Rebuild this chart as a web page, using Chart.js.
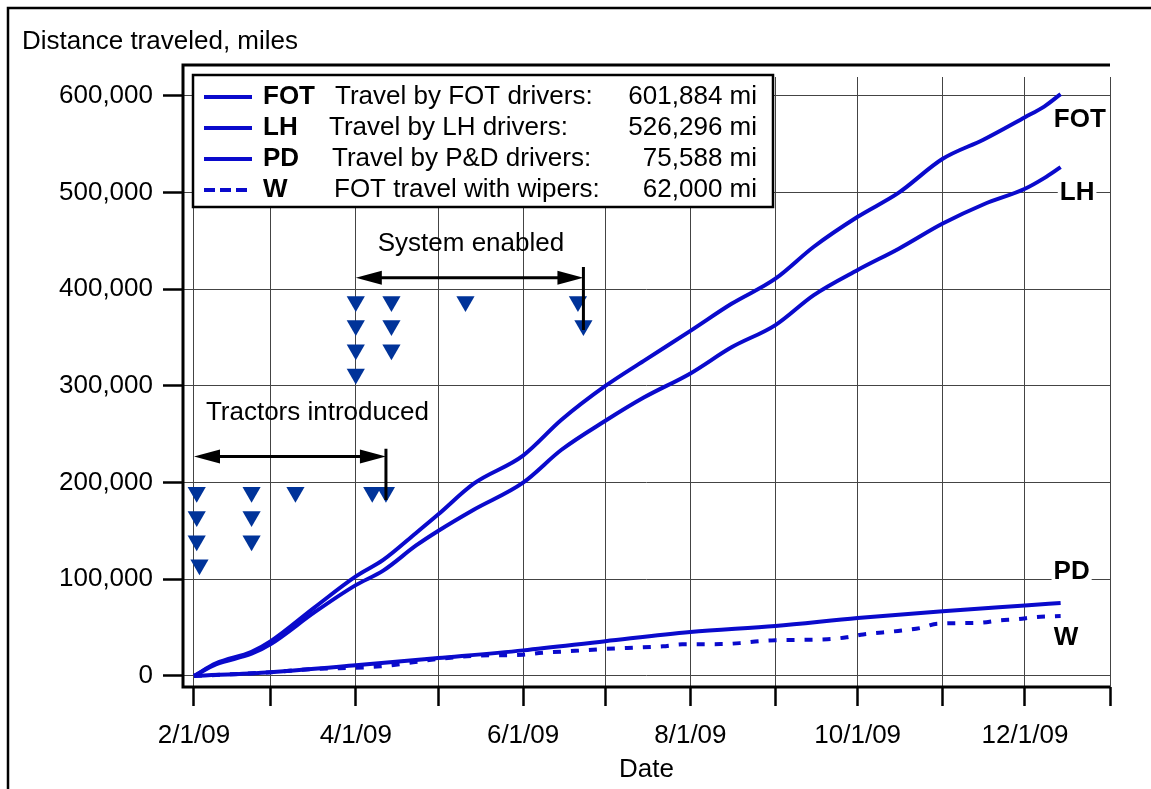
<!DOCTYPE html>
<html>
<head>
<meta charset="utf-8">
<title>Distance traveled</title>
<script src="https://cdn.jsdelivr.net/npm/chart.js@4.4.0/dist/chart.umd.min.js"></script>
<style>
body { margin: 0; background: #fff; }
</style>
</head>
<body>
<canvas id="myChart" width="1151" height="789"></canvas>
<script>
// cumulative miles
var dates    = ['2009-02-01','2009-02-09','2009-02-22','2009-03-01','2009-03-17','2009-04-01','2009-04-11','2009-04-23','2009-05-01','2009-05-14','2009-06-01','2009-06-15','2009-07-01','2009-07-15','2009-08-01','2009-08-16','2009-09-01','2009-09-15','2009-10-01','2009-10-16','2009-11-01','2009-11-16','2009-12-01','2009-12-08','2009-12-14'];
var fotMiles = [0, 13000, 25000, 36000, 71000, 103000, 120000, 148000, 167000, 199000, 228000, 265000, 300000, 326000, 357000, 385000, 411000, 444000, 475000, 500000, 535000, 555000, 578000, 589000, 601884];
var lhMiles  = [0, 12000, 23000, 33000, 66000, 94000, 109000, 135000, 150000, 172000, 200000, 234000, 264000, 288000, 313000, 340000, 363000, 394000, 420000, 442000, 468000, 488000, 504000, 515000, 526296];

var pdDates = ['2009-02-01','2009-03-01','2009-04-01','2009-05-01','2009-06-01','2009-07-01','2009-08-01','2009-09-01','2009-10-01','2009-11-01','2009-12-01','2009-12-14'];
var pdMiles = [0, 4000, 11000, 18500, 26500, 36000, 45500, 51700, 60000, 67000, 73000, 75588];

var wDates = ['2009-02-01','2009-03-01','2009-03-15','2009-04-10','2009-05-01','2009-05-15','2009-06-01','2009-06-08','2009-06-20','2009-07-01','2009-07-09','2009-07-22','2009-07-29','2009-08-12','2009-08-19','2009-08-26','2009-09-01','2009-09-20','2009-09-27','2009-10-03','2009-10-10','2009-10-17','2009-10-24','2009-10-30','2009-11-14','2009-11-22','2009-11-28','2009-12-05','2009-12-14'];
var wMiles = [0, 4000, 7000, 10000, 17500, 21000, 22000, 24000, 26000, 28000, 29000, 30700, 32800, 33000, 34000, 36000, 37000, 38000, 40000, 43000, 45000, 47000, 49700, 54000, 55000, 57600, 58600, 61000, 62000];

// event markers
var tractorDates = ['2009-02-02','2009-02-02','2009-02-02','2009-02-03','2009-02-22','2009-02-22','2009-02-22','2009-03-10','2009-04-07','2009-04-12'];
var tractorMiles = [190000, 165000, 140000, 115000, 190000, 165000, 140000, 190000, 190000, 190000];
var systemDates = ['2009-04-01','2009-04-01','2009-04-01','2009-04-01','2009-04-14','2009-04-14','2009-04-14','2009-05-11','2009-06-21','2009-06-23'];
var systemMiles = [387500, 362500, 337500, 312500, 387500, 362500, 337500, 387500, 387500, 362500];

// span arrows
var spanLabels = ['Tractors introduced', 'System enabled'];
var spanFrom = ['2009-02-01', '2009-04-01'];
var spanTo = ['2009-04-12', '2009-06-23'];
var spanLevel = [227000, 412000];
var stemTop = [235000, 423000];
var stemBottom = [182000, 358000];
var spanLabelDate = ['2009-03-18', '2009-05-13'];
var spanLabelMiles = [272000, 447000];

// series tags at the right end
var endTags = ['FOT', 'LH', 'PD', 'W'];
var endTagDates = ['2009-12-21', '2009-12-20', '2009-12-18', '2009-12-16'];
var endTagMiles = [575000, 500000, 108000, 39000];

var legendKeys = ['FOT', 'LH', 'PD', 'W'];
var legendText = ['Travel by FOT drivers:', 'Travel by LH drivers:', 'Travel by P&D drivers:', 'FOT travel with wipers:'];
var legendTotals = ['601,884 mi', '526,296 mi', '75,588 mi', '62,000 mi'];

var monthStarts = ['2009-02-01','2009-03-01','2009-04-01','2009-05-01','2009-06-01','2009-07-01','2009-08-01','2009-09-01','2009-10-01','2009-11-01','2009-12-01','2010-01-01'];
var monthLabels = ['2/1/09','','4/1/09','','6/1/09','','8/1/09','','10/1/09','','12/1/09',''];
var yTicks = [0, 100000, 200000, 300000, 400000, 500000, 600000];

var FONT = '"Liberation Sans", Arial, sans-serif';
var BLUE = '#0a0acc';
var NAVY = '#003399';

function day( s ){
  var p = s.split('-');
  return ( Date.UTC( +p[0], +p[1] - 1, +p[2] ) - Date.UTC( 2009, 1, 1 ) ) / 86400000;
}
function pts( ds, vs ){
  var out = [];
  for( var i = 0; i < ds.length; i ++ ){
    out.push( { x: day( ds[i] ), y: vs[i] } );
  }
  return out;
}

function arrowHead( ctx, x, y, dir ){
  ctx.beginPath();
  ctx.moveTo( x, y );
  ctx.lineTo( x - dir * 26, y - 7 );
  ctx.lineTo( x - dir * 26, y + 7 );
  ctx.closePath();
  ctx.fill();
}

var decorations = {
  id: 'decorations',
  afterDraw: function( chart ){
    var ctx = chart.ctx;
    var xs = chart.scales.x, ys = chart.scales.y;
    var a = chart.chartArea;
    ctx.save();

    // outer frame
    ctx.strokeStyle = '#000';
    ctx.lineWidth = 2.5;
    ctx.strokeRect( 8, 8, 1170, 800 );

    // plot frame: top, left axis, bottom axis
    ctx.lineWidth = 3;
    ctx.beginPath();
    ctx.moveTo( a.left, a.top - 12 ); ctx.lineTo( a.right, a.top - 12 );
    ctx.moveTo( a.left, a.top - 13.5 ); ctx.lineTo( a.left, a.bottom );
    ctx.moveTo( a.left - 1.5, a.bottom ); ctx.lineTo( a.right, a.bottom );
    ctx.stroke();

    // axis title
    ctx.fillStyle = '#000';
    ctx.font = '26px ' + FONT;
    ctx.textBaseline = 'middle';
    ctx.textAlign = 'left';
    ctx.fillText( 'Distance traveled, miles', 22, 42 );

    // span arrows
    ctx.lineWidth = 3;
    for( var i = 0; i < spanLabels.length; i ++ ){
      var x1 = xs.getPixelForValue( day( spanFrom[i] ) );
      var x2 = xs.getPixelForValue( day( spanTo[i] ) );
      var yl = ys.getPixelForValue( spanLevel[i] );
      ctx.beginPath();
      ctx.moveTo( x1 + 20, yl ); ctx.lineTo( x2 - 20, yl );
      ctx.moveTo( x2, ys.getPixelForValue( stemTop[i] ) );
      ctx.lineTo( x2, ys.getPixelForValue( stemBottom[i] ) );
      ctx.stroke();
      arrowHead( ctx, x1, yl, -1 );
      arrowHead( ctx, x2, yl, 1 );
      ctx.textAlign = 'center';
      ctx.fillText( spanLabels[i], xs.getPixelForValue( day( spanLabelDate[i] ) ), ys.getPixelForValue( spanLabelMiles[i] ) );
    }

    // end tags
    ctx.font = 'bold 26px ' + FONT;
    for( var i = 0; i < endTags.length; i ++ ){
      var tx = xs.getPixelForValue( day( endTagDates[i] ) );
      var ty = ys.getPixelForValue( endTagMiles[i] );
      var w = ctx.measureText( endTags[i] ).width;
      ctx.fillStyle = '#fff';
      ctx.fillRect( tx - w / 2 - 2, ty - 12, w + 4, 24 );
      ctx.fillStyle = '#000';
      ctx.fillText( endTags[i], tx, ty );
    }

    // legend
    var lx = 193, ly = 75, lw = 580, lh = 132;
    ctx.fillStyle = '#fff';
    ctx.fillRect( lx, ly, lw, lh );
    ctx.lineWidth = 2.5;
    ctx.strokeStyle = '#000';
    ctx.strokeRect( lx, ly, lw, lh );
    var descX = [ 335, 329, 332, 334 ];
    for( var i = 0; i < legendKeys.length; i ++ ){
      var ry = ly + 22 + i * 31;
      ctx.strokeStyle = BLUE;
      ctx.lineWidth = 4;
      ctx.setLineDash( i == 3 ? [ 11, 5 ] : [] );
      ctx.beginPath();
      ctx.moveTo( 204, ry ); ctx.lineTo( 252, ry );
      ctx.stroke();
      ctx.setLineDash( [] );
      ctx.fillStyle = '#000';
      ctx.textAlign = 'left';
      ctx.font = 'bold 26px ' + FONT;
      ctx.fillText( legendKeys[i], 263, ry );
      ctx.font = '26px ' + FONT;
      ctx.fillText( legendText[i], descX[i], ry );
      ctx.textAlign = 'right';
      ctx.fillText( legendTotals[i], 757, ry );
    }
    ctx.restore();
  }
};

Chart.defaults.font.family = FONT;
Chart.defaults.font.size = 26;
Chart.defaults.color = '#000';

var lineStyle = { borderColor: BLUE, borderWidth: 4, pointRadius: 0, cubicInterpolationMode: 'monotone', fill: false };

var ctx = document.getElementById( 'myChart' ).getContext( '2d' );
var myChart = new Chart( ctx, {
  type: 'line',
  data: {
    datasets: [
      Object.assign( { label: 'FOT', data: pts( dates, fotMiles ) }, lineStyle ),
      Object.assign( { label: 'LH', data: pts( dates, lhMiles ) }, lineStyle ),
      Object.assign( { label: 'PD', data: pts( pdDates, pdMiles ) }, lineStyle ),
      Object.assign( { label: 'W', data: pts( wDates, wMiles ), borderDash: [ 8, 10 ] }, lineStyle ),
      { type: 'scatter', label: 'Tractors', data: pts( tractorDates, tractorMiles ),
        pointStyle: 'triangle', rotation: 180, pointRadius: 10.5, backgroundColor: NAVY, borderWidth: 0 },
      { type: 'scatter', label: 'System', data: pts( systemDates, systemMiles ),
        pointStyle: 'triangle', rotation: 180, pointRadius: 10.5, backgroundColor: NAVY, borderWidth: 0 }
    ]
  },
  options: {
    responsive: false,
    animation: false,
    layout: { padding: { top: 77, right: 41, left: 0, bottom: 0 } },
    plugins: { legend: { display: false }, tooltip: { enabled: false } },
    scales: {
      x: {
        type: 'linear',
        min: day( '2009-01-28' ),
        max: day( '2010-01-01' ),
        afterBuildTicks: function( s ){ s.ticks = monthStarts.map( function( d ){ return { value: day( d ) }; } ); },
        afterFit: function( s ){ s.height = 102; },
        grid: { color: '#444', lineWidth: 1, tickLength: 19, tickColor: '#000', tickWidth: 2.5 },
        border: { display: false },
        ticks: { autoSkip: false, maxRotation: 0, padding: 14,
                 callback: function( v, i ){ return monthLabels[i]; } },
        title: { display: true, text: 'Date', padding: { top: 0, bottom: 4 } }
      },
      y: {
        min: -11380,
        max: 619600,
        afterBuildTicks: function( s ){ s.ticks = yTicks.map( function( v ){ return { value: v }; } ); },
        afterFit: function( s ){ s.width = 183; },
        grid: { color: '#444', lineWidth: 1, tickLength: 20, tickColor: '#000', tickWidth: 2.5 },
        border: { display: false },
        ticks: { padding: 10, callback: function( v ){ return v.toLocaleString( 'en-US' ); } }
      }
    }
  },
  plugins: [ decorations ]
});
</script>
</body>
</html>
